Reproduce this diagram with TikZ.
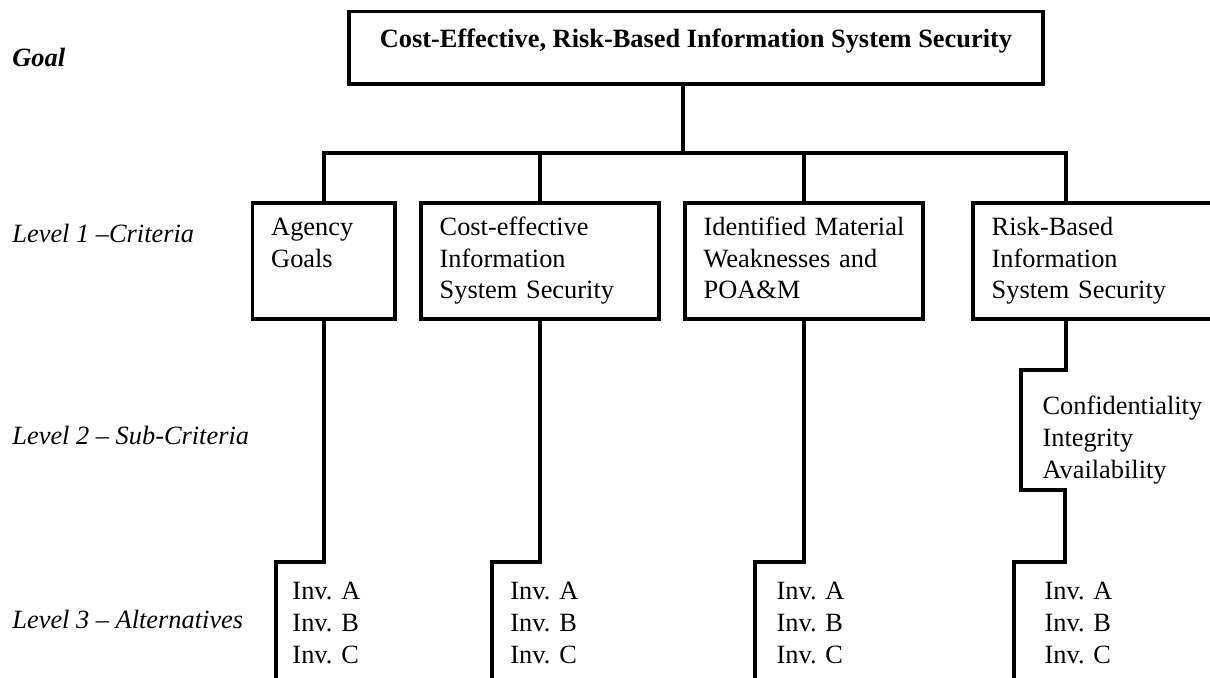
\documentclass[tikz,border=0pt]{standalone}
\usepackage{fontspec}
\setmainfont{Liberation Serif}
\usepackage{tikz}
\usetikzlibrary{calc}

\begin{document}
\begin{tikzpicture}[
		x=0.455pt, y=-0.455pt,
		font=\fontsize{12}{14.4}\selectfont,
		wire/.style={line width=1.7pt},
		goalbox/.style={
				rectangle,
				minimum width = 315.8pt,
				minimum height = 33pt,
				text height = 8pt,
				text depth = 8pt,
				line width=1.7pt,
				draw=black,
				font={\fontsize{12}{14.4}\selectfont\bfseries}
			},
		critbox/.style={
				rectangle,
				align=left,
				inner xsep=8.5pt,
				minimum height = 53pt,
				line width=1.7pt,
				draw=black
			},
		altlist/.style={
				anchor=north west,
				align=left,
				inner ysep=9.1pt
			},
		sublist/.style={
				anchor=west,
				align=left,
				inner xsep=9.6pt
			},
		levellabel/.style={
				anchor=base west,
				inner sep=0pt,
				font={\fontsize{12}{14.4}\selectfont\itshape}
			},
		]

		\useasboundingbox (0,0) rectangle (1210,678);

		\node[goalbox] (goal) at (696,47.75) {Cost-Effective, Risk-Based Information System Security};

		\node[critbox, text width=47.8pt] (agency) at (323.75,261) {\strut Agency\\ Goals\\ \strut};

		\node[critbox, text width=91.3pt] (cost) at (540,261) {\strut Cost-effective\\ Information\\ System Security\strut};

		\node[critbox, text width=91.3pt] (ident) at (804,261) {\strut Identified Material\\ Weaknesses and\\ POA\&M\strut};

		\node[critbox, text width=93.1pt] (risk) at (1094,261) {\strut Risk-Based\\ Information\\ System Security\strut};

		\node[sublist] (cia) at (1021,440) {Confidentiality\\ Integrity\\ Availability};

		\node[altlist, inner xsep=7.3pt] (altA) at (276,562) {Inv. A\\ Inv. B\\ Inv. C};

		\node[altlist, inner xsep=8.2pt] (altB) at (492,562) {Inv. A\\ Inv. B\\ Inv. C};

		\node[altlist, inner xsep=9.6pt] (altC) at (755,562) {Inv. A\\ Inv. B\\ Inv. C};

		\node[altlist, inner xsep=13.7pt] (altD) at (1014,562) {Inv. A\\ Inv. B\\ Inv. C};

		\node[levellabel, font={\fontsize{12}{14.4}\selectfont\bfseries\itshape}] (lgoal) at (12,66) {Goal};

		\node[levellabel] (lcrit) at (12,242) {Level 1 –Criteria};

		\node[levellabel] (lsub) at (12,444) {Level 2 – Sub-Criteria};

		\node[levellabel] (lalt) at (12,628) {Level 3 – Alternatives};

		\coordinate (bus) at (683,153);

		\coordinate (rdrop) at ($(risk.north west)+(95,0)$);

		\draw[wire] (goal.south -| bus) -- (bus);

		\draw[wire] (agency.north) |- (bus) -| (rdrop);

		\draw[wire] (cost.north) -- (cost.north |- bus);

		\draw[wire] (ident.north) -- (ident.north |- bus);

		\draw[wire] (agency.south) |- (altA.north west) -- (altA.south west);

		\draw[wire] (cost.south) |- (altB.north west) -- (altB.south west);

		\draw[wire] (ident.south) |- (altC.north west) -- (altC.south west);

		\draw[wire] (rdrop |- risk.south) |- ($(cia.west)+(0,-70)$) -- ($(cia.west)+(0,50)$) -| ($(altD.north west)+(51,0)$) -- (altD.north west) -- (altD.south west);

	\end{tikzpicture}
\end{document}
